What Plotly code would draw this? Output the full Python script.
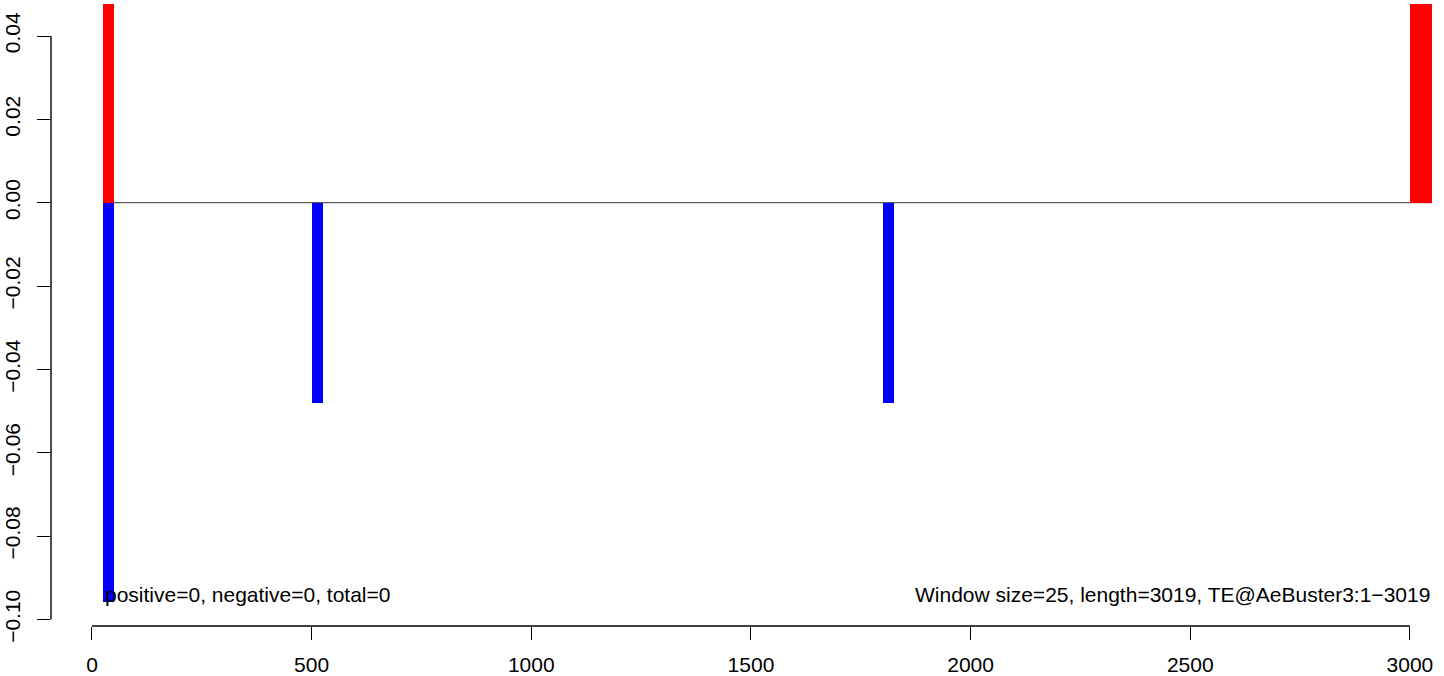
import plotly.graph_objects as go

# window data (start position, width, value)
pos_start = [25, 3000]
pos_width = [25, 50]
pos_value = [0.0477, 0.0477]

neg_start = [25, 500, 1800]
neg_width = [25, 25, 25]
neg_value = [-0.0958, -0.048, -0.048]

x_ticks = [0, 500, 1000, 1500, 2000, 2500, 3000]
y_ticks = [-0.10, -0.08, -0.06, -0.04, -0.02, 0.00, 0.02, 0.04]

left_text = "positive=0, negative=0, total=0"
right_text = "Window size=25, length=3019, TE@AeBuster3:1\u22123019"

FONT = "Liberation Sans, Arial, Helvetica, sans-serif"
FS = 21

fig = go.Figure()
fig.add_trace(go.Bar(
    x=[s + w / 2 for s, w in zip(pos_start, pos_width)], y=pos_value, width=pos_width,
    marker=dict(color="#ff0000", line=dict(width=0)), showlegend=False, hoverinfo="skip"))
fig.add_trace(go.Bar(
    x=[s + w / 2 for s, w in zip(neg_start, neg_width)], y=neg_value, width=neg_width,
    marker=dict(color="#0000ff", line=dict(width=0)), showlegend=False, hoverinfo="skip"))

shapes = [
    # zero line
    dict(type="line", xref="x", yref="y", x0=pos_start[0], x1=pos_start[-1] + pos_width[-1],
         y0=0, y1=0, line=dict(color="#5a5a5a", width=1.3), layer="below"),
    # x axis line
    dict(type="line", xref="x", yref="paper", x0=x_ticks[0], x1=x_ticks[-1], y0=0, y1=0,
         line=dict(color="black", width=1.4)),
    # y axis line
    dict(type="line", xref="paper", yref="y", x0=0, x1=0, y0=y_ticks[0], y1=y_ticks[-1],
         line=dict(color="black", width=1.4)),
]

annotations = [
    dict(text=left_text, x=pos_start[0], y=-0.0941, xref="x", yref="y",
         xanchor="left", yanchor="middle", showarrow=False,
         font=dict(family=FONT, size=FS, color="black")),
    dict(text=right_text, x=pos_start[-1] + pos_width[-1], y=-0.0941, xref="x", yref="y",
         xanchor="right", yanchor="middle", showarrow=False,
         font=dict(family=FONT, size=FS, color="black")),
]

fig.update_layout(
    width=1444, height=676,
    margin=dict(l=51, r=0, t=0, b=50, autoexpand=False),
    paper_bgcolor="white", plot_bgcolor="white",
    barmode="overlay", bargap=0,
    shapes=shapes, annotations=annotations,
    font=dict(family=FONT, size=FS, color="black"),
    xaxis=dict(range=[-93.3, 3077.6], tickvals=x_ticks, ticktext=[str(v) for v in x_ticks],
               ticks="outside", ticklen=13, tickwidth=1.4, tickcolor="black",
               ticklabelstandoff=7,
               showline=False, showgrid=False, zeroline=False, automargin=False,
               tickfont=dict(family=FONT, size=FS, color="black")),
    yaxis=dict(range=[-0.10158, 0.04864], tickvals=y_ticks,
               ticktext=[("\u2212" if v < 0 else "") + f"{abs(v):.2f}" for v in y_ticks],
               tickangle=-90, ticklabelstandoff=9,
               ticks="outside", ticklen=13, tickwidth=1.4, tickcolor="black",
               showline=False, showgrid=False, zeroline=False, automargin=False,
               tickfont=dict(family=FONT, size=FS, color="black")),
)

fig.write_html("out.html", config={"displayModeBar": False},
               post_script="document.body.style.margin='0';document.body.style.overflow='hidden';")
